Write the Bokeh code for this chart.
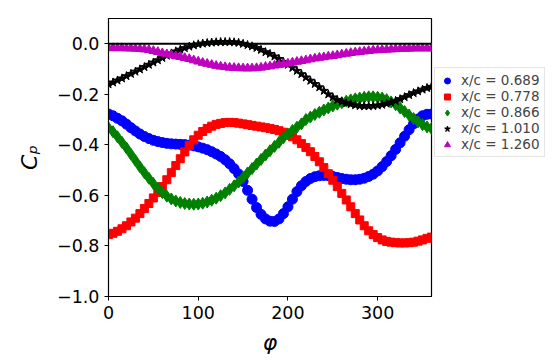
from bokeh.plotting import figure
from bokeh.models import (Span, Legend, LegendItem, FixedTicker, CustomJSTickFormatter, Range1d)
from bokeh.embed import file_html
from bokeh.resources import INLINE

phi = list(range(0, 361, 5))

cp_0689 = [-0.278, -0.285, -0.295, -0.305, -0.318, -0.332, -0.345, -0.357, -0.367, -0.375,
           -0.382, -0.387, -0.391, -0.394, -0.396, -0.397, -0.398, -0.399, -0.401, -0.404,
           -0.408, -0.413, -0.419, -0.427, -0.436, -0.446, -0.459, -0.475, -0.494, -0.515,
           -0.545, -0.580, -0.615, -0.648, -0.675, -0.693, -0.702, -0.703, -0.693, -0.672,
           -0.645, -0.615, -0.585, -0.562, -0.545, -0.533, -0.526, -0.522, -0.521, -0.522,
           -0.525, -0.529, -0.533, -0.536, -0.538, -0.538, -0.536, -0.532, -0.525, -0.516,
           -0.503, -0.486, -0.466, -0.443, -0.418, -0.392, -0.366, -0.340, -0.317, -0.298,
           -0.285, -0.279, -0.278]

cp_0778 = [-0.755, -0.750, -0.742, -0.732, -0.720, -0.705, -0.690, -0.672, -0.652, -0.632,
           -0.610, -0.588, -0.565, -0.538, -0.510, -0.482, -0.455, -0.428, -0.402, -0.380,
           -0.362, -0.347, -0.335, -0.326, -0.319, -0.315, -0.312, -0.311, -0.312, -0.314,
           -0.317, -0.320, -0.323, -0.326, -0.329, -0.332, -0.335, -0.339, -0.344, -0.350,
           -0.358, -0.368, -0.380, -0.395, -0.410, -0.427, -0.446, -0.467, -0.490, -0.514,
           -0.540, -0.565, -0.592, -0.618, -0.645, -0.672, -0.697, -0.720, -0.740, -0.755,
           -0.767, -0.776, -0.782, -0.785, -0.787, -0.788, -0.788, -0.787, -0.785, -0.781,
           -0.776, -0.770, -0.765]

cp_0866 = [-0.333, -0.348, -0.368, -0.390, -0.412, -0.437, -0.462, -0.487, -0.510, -0.532,
           -0.553, -0.572, -0.589, -0.603, -0.614, -0.622, -0.628, -0.632, -0.634, -0.635,
           -0.634, -0.631, -0.626, -0.619, -0.611, -0.601, -0.590, -0.576, -0.562, -0.547,
           -0.529, -0.511, -0.494, -0.476, -0.458, -0.440, -0.423, -0.406, -0.390, -0.372,
           -0.357, -0.343, -0.330, -0.317, -0.300, -0.290, -0.280, -0.271, -0.262, -0.254,
           -0.246, -0.239, -0.233, -0.227, -0.222, -0.218, -0.215, -0.212, -0.210, -0.210,
           -0.212, -0.215, -0.221, -0.230, -0.241, -0.254, -0.268, -0.282, -0.296, -0.309,
           -0.320, -0.329, -0.335]

cp_1010 = [-0.160, -0.153, -0.145, -0.137, -0.128, -0.119, -0.110, -0.101, -0.092, -0.083,
           -0.074, -0.065, -0.056, -0.047, -0.038, -0.030, -0.023, -0.017, -0.011, -0.006,
           -0.002, 0.001, 0.003, 0.005, 0.006, 0.007, 0.007, 0.007, 0.006, 0.004,
           0.000, -0.005, -0.010, -0.016, -0.024, -0.033, -0.040, -0.050, -0.060, -0.072,
           -0.083, -0.095, -0.107, -0.120, -0.133, -0.146, -0.159, -0.172, -0.186, -0.200,
           -0.212, -0.222, -0.229, -0.235, -0.239, -0.243, -0.246, -0.247, -0.247, -0.246,
           -0.244, -0.241, -0.237, -0.232, -0.226, -0.219, -0.211, -0.203, -0.195, -0.188,
           -0.181, -0.175, -0.170]

cp_1260 = [-0.017, -0.017, -0.017, -0.017, -0.018, -0.018, -0.019, -0.020, -0.022, -0.024,
           -0.028, -0.032, -0.037, -0.041, -0.045, -0.049, -0.052, -0.056, -0.060, -0.065,
           -0.070, -0.075, -0.079, -0.083, -0.087, -0.090, -0.092, -0.094, -0.095, -0.096,
           -0.097, -0.097, -0.097, -0.096, -0.094, -0.091, -0.089, -0.086, -0.083, -0.081,
           -0.078, -0.074, -0.071, -0.068, -0.065, -0.061, -0.058, -0.055, -0.053, -0.050,
           -0.048, -0.045, -0.042, -0.039, -0.036, -0.034, -0.032, -0.030, -0.028, -0.026,
           -0.025, -0.024, -0.023, -0.022, -0.021, -0.020, -0.019, -0.019, -0.018, -0.018,
           -0.018, -0.018, -0.018]

series_labels = ["x/c = 0.689", "x/c = 0.778", "x/c = 0.866", "x/c = 1.010", "x/c = 1.260"]
x_ticks = [0, 100, 200, 300]
y_ticks = [-1.0, -0.8, -0.6, -0.4, -0.2, 0.0]

FONT = "DejaVu Sans"

p = figure(width=551, height=353, output_backend="svg", toolbar_location=None,
           x_range=Range1d(0, 360), y_range=Range1d(-1.0, 0.1),
           frame_width=323, frame_height=278,
           min_border_left=108, min_border_right=0, min_border_top=18, min_border_bottom=57)

p.grid.visible = False
p.outline_line_color = "black"
p.outline_line_width = 1.2
p.background_fill_color = "white"
p.border_fill_color = "white"

styles = [
    (cp_0689, "circle", "#0000ff", 10),
    (cp_0778, "square", "#ff0000", 8),
    (cp_0866, "diamond", "#008000", 12),
    (cp_1010, "star", "#000000", 9),
    (cp_1260, "triangle", "#bf00bf", 9),
]

renderers = []
for vals, marker, color, size in styles:
    r = p.scatter(phi, vals, marker=marker, size=size, fill_color=color, line_color=color)
    renderers.append(r)

p.add_layout(Span(location=0.0, dimension="width", line_color="black", line_width=2))

for ax in (p.xaxis[0], p.yaxis[0]):
    ax.major_tick_in = 0
    ax.major_tick_out = 4
    ax.minor_tick_in = 0
    ax.minor_tick_out = 0
    ax.axis_line_color = "black"
    ax.major_tick_line_color = "black"
    ax.major_label_text_font = FONT
    ax.major_label_text_font_size = "17.5px"
    ax.major_label_text_color = "black"
    ax.axis_label_text_font = FONT
    ax.axis_label_text_font_size = "22px"
    ax.axis_label_text_font_style = "italic"
    ax.axis_label_text_color = "black"

p.xaxis[0].ticker = FixedTicker(ticks=x_ticks)
p.yaxis[0].ticker = FixedTicker(ticks=y_ticks)
p.yaxis[0].formatter = CustomJSTickFormatter(code="return tick.toFixed(1).replace('-', '\u2212');")
p.xaxis[0].axis_label = "\u03c6"
p.yaxis[0].axis_label = "C\u209a"
p.xaxis[0].major_label_standoff = 5
p.yaxis[0].major_label_standoff = 5
p.xaxis[0].axis_label_standoff = 8
p.yaxis[0].axis_label_standoff = 12

legend = Legend(
    items=[LegendItem(label=lab, renderers=[r]) for lab, r in zip(series_labels, renderers)],
    location=(3, 139),
    label_text_font=FONT,
    label_text_font_size="13.5px",
    label_height=15,
    label_standoff=6,
    glyph_width=16,
    glyph_height=15,
    spacing=0,
    padding=4,
    margin=0,
    border_line_color="#cccccc",
    border_line_width=1,
    background_fill_color="white",
    background_fill_alpha=0.8,
)
p.add_layout(legend, "right")

open("out.html", "w").write(file_html(p, INLINE))
